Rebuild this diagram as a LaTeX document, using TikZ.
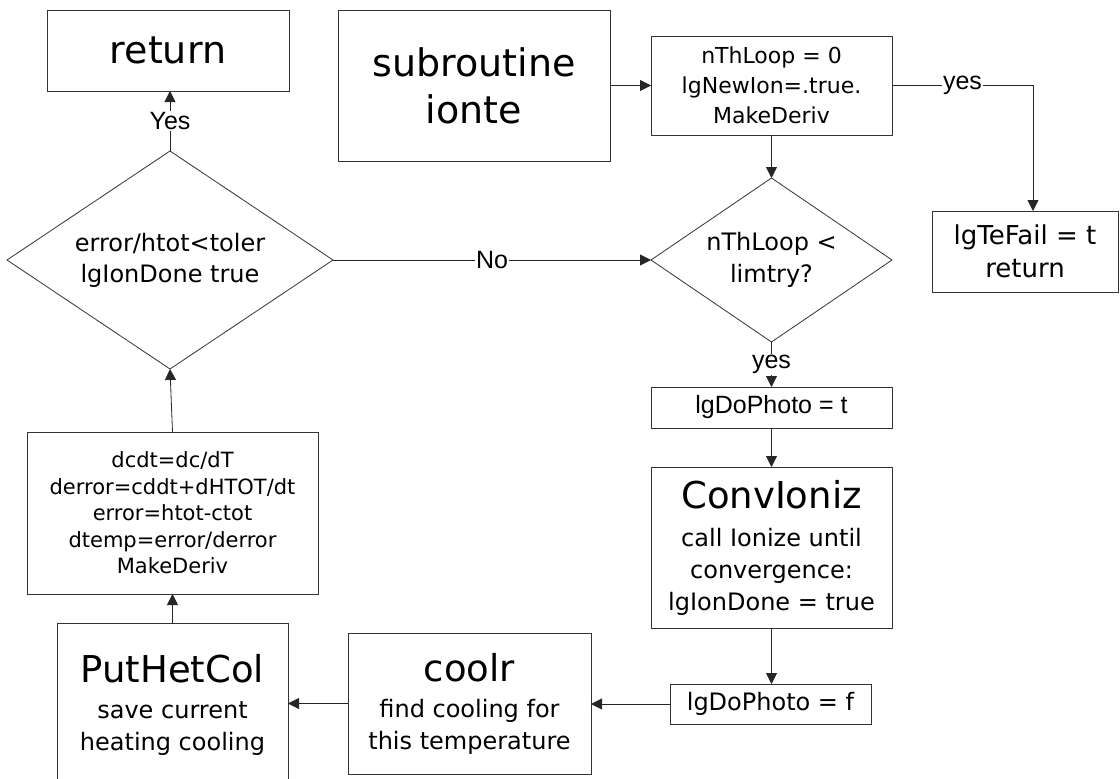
\documentclass[tikz,border=0pt]{standalone}
\usepackage{fontspec}
\setmainfont{DejaVu Sans}
\newfontfamily\arialf{Liberation Sans}
\usetikzlibrary{shapes.geometric,arrows.meta}
\begin{document}
\begin{tikzpicture}[x=1pt,y=-1pt,
  box/.style={draw=black!80,line width=0.8pt,rectangle,inner sep=0pt,outer sep=0pt,align=center},
  dia/.style={draw=black!80,line width=0.8pt,diamond,inner sep=0pt,outer sep=0pt,align=center},
  arr/.style={draw=black!85,line width=0.8pt,-{Triangle[length=11pt,width=11pt]}},
  lbl/.style={fill=white,inner sep=1pt,font=\arialf\fontsize{25}{28}\selectfont}]
\clip (0,0) rectangle (1120,779);
\fill[white] (0,0) rectangle (1120,779);
\node[box,minimum width=242pt,minimum height=81pt,font=\fontsize{38}{40}\selectfont] (ret) at (168,50.5) {return};
\node[box,minimum width=272pt,minimum height=151pt,font=\fontsize{38}{47}\selectfont] (sub) at (474,85.5) {subroutine\\ionte};
\node[box,minimum width=241pt,minimum height=99pt,font=\fontsize{22}{30}\selectfont] (nth) at (771.5,85.5) {nThLoop = 0\\lgNewIon=.true.\\MakeDeriv};
\node[box,minimum width=186pt,minimum height=81pt,font=\fontsize{26}{33}\selectfont] (tef) at (1025,251.5) {lgTeFail = t\\return};
\node[dia,minimum width=326pt,minimum height=218pt,aspect=1.5,font=\fontsize{24}{31}\selectfont] (ldia) at (170,260) {error/htot<toler\\lgIonDone true};
\node[dia,minimum width=241pt,minimum height=164pt,aspect=1.47,font=\fontsize{24}{32}\selectfont] (rdia) at (771.5,260) {nThLoop <\\limtry?};
\node[box,minimum width=241pt,minimum height=41pt,font=\arialf\fontsize{25}{28}\selectfont] (dot) at (771.5,407.5) {lgDoPhoto = t};
\node[box,minimum width=241pt,minimum height=161pt,font=\fontsize{24}{32}\selectfont] (conv) at (771.5,547.5) {{\fontsize{37}{37}\selectfont ConvIoniz}\\[6pt]call Ionize until\\convergence:\\lgIonDone = true};
\node[box,minimum width=201pt,minimum height=40pt,font=\fontsize{24}{28}\selectfont] (dof) at (770.5,704) {lgDoPhoto = f};
\node[box,minimum width=243pt,minimum height=141pt,font=\fontsize{24}{32}\selectfont] (cool) at (469.5,703.5) {{\fontsize{37}{37}\selectfont coolr}\\[4pt]find cooling for\\this temperature};
\node[box,minimum width=231pt,minimum height=164pt,font=\fontsize{24}{32}\selectfont] (put) at (172.5,705) {{\fontsize{37}{37}\selectfont PutHetCol}\\[4pt]save current\\heating cooling};
\node[box,minimum width=291pt,minimum height=162pt,font=\fontsize{21}{26.5}\selectfont] (dcdt) at (172.5,513) {dcdt=dc/dT\\derror=cddt+dHTOT/dt\\error=htot-ctot\\dtemp=error/derror\\MakeDeriv};
\draw[arr] (sub.east) -- (nth.west);
\draw[arr] (nth.south) -- (rdia.north);
\draw[arr] (nth.east) -- node[lbl]{yes} ([xshift=8pt]tef.north |- nth.east) -- ([xshift=8pt]tef.north);
\draw[arr] (ldia.east) -- node[lbl]{No} (rdia.west);
\draw[arr] (ldia.north) -- node[lbl]{Yes} (ldia.north |- ret.south);
\draw[arr] (rdia.south) -- node[lbl]{yes} (dot.north);
\draw[arr] (dot.south) -- (conv.north);
\draw[arr] (conv.south) -- (conv.south |- dof.north);
\draw[arr] (dof.west) -- (cool.east |- dof.west);
\draw[arr] (cool.west) -- (put.east |- cool.west);
\draw[arr] (put.north) -- (dcdt.south);
\draw[arr] (dcdt.north) -- (ldia.south);
\end{tikzpicture}
\end{document}
